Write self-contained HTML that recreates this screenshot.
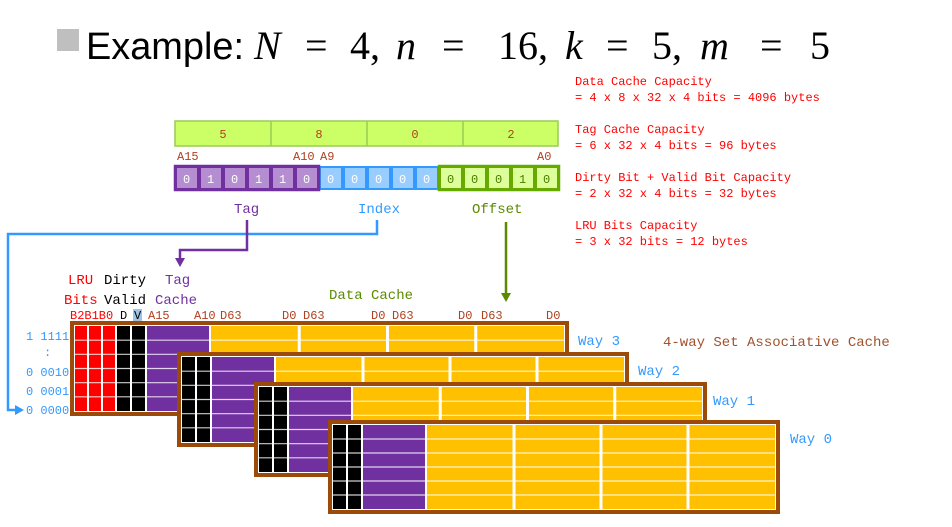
<!DOCTYPE html>
<html><head><meta charset="utf-8"><style>
html,body{margin:0;padding:0;background:#fff;}
svg{display:block;}
.m{font-family:"Liberation Mono","DejaVu Sans Mono",monospace;}
</style></head><body>
<svg id="s" width="952" height="527" viewBox="0 0 952 527" xmlns="http://www.w3.org/2000/svg">
<rect x="57" y="29" width="22" height="22" fill="#bfbfbf"/>
<text x="86" y="59" font-family="Liberation Sans Narrow, Liberation Sans, sans-serif" font-size="38" fill="#000" textLength="158" lengthAdjust="spacingAndGlyphs">Example:</text>
<g font-family="Liberation Serif, serif" font-size="40" fill="#000">
<text x="254" y="59" font-style="italic">N</text>
<text x="305" y="59">=</text>
<text x="350" y="59">4,</text>
<text x="396" y="59" font-style="italic">n</text>
<text x="442" y="59">=</text>
<text x="498" y="59">16,</text>
<text x="565" y="59" font-style="italic">k</text>
<text x="606" y="59">=</text>
<text x="652" y="59">5,</text>
<text x="700" y="59" font-style="italic">m</text>
<text x="760" y="59">=</text>
<text x="810" y="59">5</text>
</g>

<g class="m" font-size="12" fill="#ff0000">
<text x="575" y="85">Data Cache Capacity</text>
<text x="575" y="101">= 4 x 8 x 32 x 4 bits = 4096 bytes</text>
<text x="575" y="133">Tag Cache Capacity</text>
<text x="575" y="149">= 6 x 32 x 4 bits = 96 bytes</text>
<text x="575" y="181">Dirty Bit + Valid Bit Capacity</text>
<text x="575" y="197">= 2 x 32 x 4 bits = 32 bytes</text>
<text x="575" y="229">LRU Bits Capacity</text>
<text x="575" y="245">= 3 x 32 bits = 12 bytes</text>
</g>

<g id="hex"></g>
<g id="bits"></g>
<g class="m" font-size="12" fill="#b04020" text-anchor="middle">
<text x="223" y="138">5</text><text x="319" y="138">8</text><text x="415" y="138">0</text><text x="511" y="138">2</text>
</g>
<g class="m" font-size="12" fill="#b04020">
<text x="177" y="160">A15</text><text x="293" y="160">A10</text><text x="320" y="160">A9</text><text x="537" y="160">A0</text>
</g>
<g class="m" font-size="12" fill="#fff" id="bittext">
<text x="183" y="183">0</text><text x="207" y="183">1</text><text x="231" y="183">0</text><text x="255" y="183">1</text><text x="279" y="183">1</text><text x="303" y="183">0</text>
<text x="327" y="183">0</text><text x="351" y="183">0</text><text x="375" y="183">0</text><text x="399" y="183">0</text><text x="423" y="183">0</text>
</g>
<g class="m" font-size="12" fill="#4a7a00">
<text x="447" y="183">0</text><text x="471" y="183">0</text><text x="495" y="183">0</text><text x="519" y="183">1</text><text x="543" y="183">0</text>
</g>
<g class="m" font-size="14">
<text x="234" y="213" fill="#7030a0">Tag</text>
<text x="358" y="213" fill="#3399ff">Index</text>
<text x="472" y="213" fill="#5a8a00">Offset</text>
</g>
<polyline points="377,220 377,234 8,234 8,410 16,410" fill="none" stroke="#3399ff" stroke-width="2.5"/>
<polygon points="24,410 15,405 15,415" fill="#3399ff"/>
<polyline points="247,220 247,250 180,250 180,259" fill="none" stroke="#7030a0" stroke-width="2.5"/>
<polygon points="180,267 175,258 185,258" fill="#7030a0"/>
<line x1="506" y1="222" x2="506" y2="294" stroke="#5a8a00" stroke-width="2.5"/>
<polygon points="506,302 501,293 511,293" fill="#5a8a00"/>

<g class="m" font-size="14">
<text x="68" y="284" fill="#ff0000">LRU</text><text x="104" y="284" fill="#000">Dirty</text><text x="165" y="284" fill="#7030a0">Tag</text>
<text x="64" y="304" fill="#ff0000">Bits</text><text x="104" y="304" fill="#000">Valid</text><text x="155" y="304" fill="#7030a0">Cache</text>
<text x="329" y="299" fill="#5a8a00">Data Cache</text>
</g>
<rect x="133" y="309" width="9" height="12" fill="#9dc3e6"/>
<g class="m" font-size="12">
<text x="70" y="319" fill="#ff0000">B2B1B0</text><text x="120" y="319" fill="#000">D</text><text x="134" y="319" fill="#000">V</text>
<text x="148" y="319" fill="#b04020">A15</text><text x="194" y="319" fill="#b04020">A10</text><text x="220" y="319" fill="#b04020">D63</text>
<text x="282" y="319" fill="#b04020">D0</text><text x="303" y="319" fill="#b04020">D63</text>
<text x="371" y="319" fill="#b04020">D0</text><text x="392" y="319" fill="#b04020">D63</text>
<text x="458" y="319" fill="#b04020">D0</text><text x="481" y="319" fill="#b04020">D63</text>
<text x="546" y="319" fill="#b04020">D0</text>
<text x="26" y="340" fill="#3399ff">1 1111</text>
<text x="44" y="356" fill="#3399ff">:</text>
<text x="26" y="376" fill="#3399ff">0 0010</text>
<text x="26" y="395" fill="#3399ff">0 0001</text>
<text x="26" y="414" fill="#3399ff">0 0000</text>
</g>
<g id="ways"></g>
<g class="m" font-size="14" fill="#3399ff">
<text x="578" y="345">Way 3</text>
<text x="638" y="375">Way 2</text>
<text x="713" y="405">Way 1</text>
<text x="790" y="443">Way 0</text>
<text x="663" y="346" fill="#a0522d">4-way Set Associative Cache</text>
</g>
</svg>
<script>
var NS="http://www.w3.org/2000/svg";
function el(p,t,a){var e=document.createElementNS(NS,t);for(var k in a)e.setAttribute(k,a[k]);document.getElementById(p).appendChild(e);return e;}
el("hex","rect",{x:175,y:121,width:383,height:25,fill:"#ccff66",stroke:"#99cc55","stroke-width":1.5});
for(var i=1;i<4;i++)el("hex","line",{x1:175+i*96,y1:121,x2:175+i*96,y2:146,stroke:"#99cc55","stroke-width":1.5});
for(var i=0;i<16;i++){
 var x=175+i*24,f,s;
 if(i<6){f="#b48ed0";s="#7030a0";}else if(i<11){f="#99ccff";s="#3399ff";}else{f="#ddff99";s="#66aa00";}
 el("bits","rect",{x:x+1,y:167,width:22,height:22,fill:f,stroke:s,"stroke-width":2});
}
el("bits","rect",{x:175,y:166,width:144,height:24,fill:"none",stroke:"#7030a0","stroke-width":2.5});
el("bits","rect",{x:439,y:166,width:120,height:24,fill:"none",stroke:"#66aa00","stroke-width":2.5});
var W=[
 {x:72,y:323,r:567,b:414,red:true},
 {x:179,y:354,r:627,b:445},
 {x:256,y:384,r:705,b:475},
 {x:330,y:422,r:778,b:512}
];
W.forEach(function(w){
 var g="ways";
 el(g,"rect",{x:w.x,y:w.y,width:w.r-w.x,height:w.b-w.y,fill:"#fff",stroke:"#9c4a0a","stroke-width":4});
 var ix=w.x+3,iy=w.y+3,ib=w.b-3,ir=w.r-3,h=ib-iy;
 var x=ix;
 if(w.red){for(var i=0;i<3;i++){el(g,"rect",{x:x,y:iy,width:12,height:h,fill:"#ff0000"});x+=14;}}
 for(var i=0;i<2;i++){el(g,"rect",{x:x,y:iy,width:13,height:h,fill:"#000"});x+=15;}
 el(g,"rect",{x:x,y:iy,width:62,height:h,fill:"#7030a0"});x+=64;
 var yw=ir-x,cw=(yw)/4;
 el(g,"rect",{x:x,y:iy,width:yw,height:h,fill:"#ffc000"});
 for(var i=1;i<4;i++)el(g,"rect",{x:x+i*cw-1.5,y:iy,width:3,height:h,fill:"#fff"});
 for(var j=1;j<6;j++)el(g,"line",{x1:ix,y1:iy+j*h/6,x2:ir,y2:iy+j*h/6,stroke:"#fff","stroke-width":1.2,"stroke-opacity":0.8});
});
</script>
</body></html>
